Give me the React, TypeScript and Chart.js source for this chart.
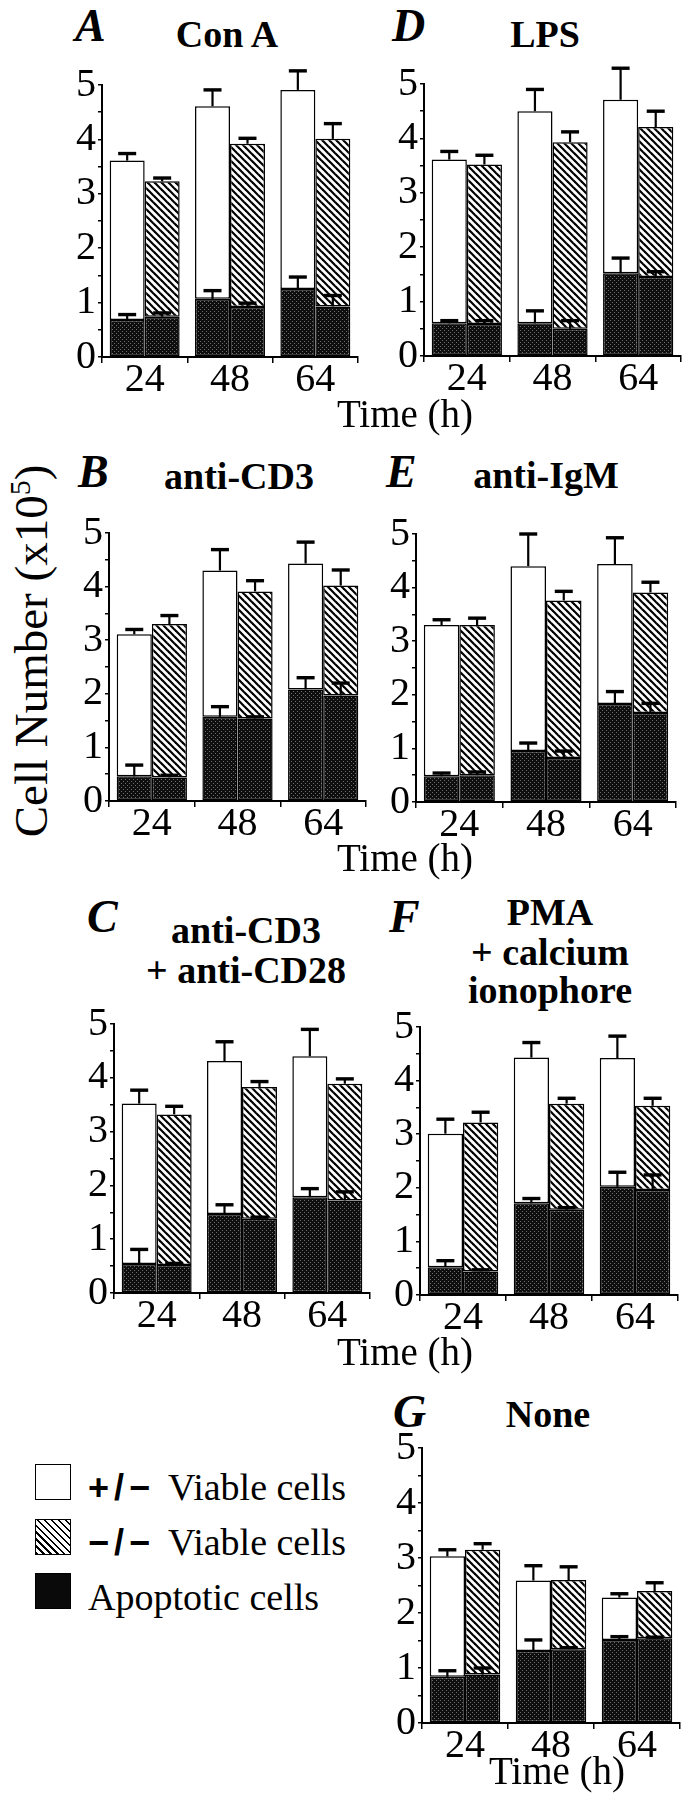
import React, { useEffect, useRef } from 'react';
import { Chart, registerables } from 'chart.js';

Chart.register(...registerables);

// ---------- DATA ----------
const timeLabels = ['24', '48', '64'];
const panelIds = ['A', 'B', 'C', 'D', 'E', 'F', 'G'];
const panelTitles = [
  ['Con A'],
  ['anti-CD3'],
  ['anti-CD3', '+ anti-CD28'],
  ['LPS'],
  ['anti-IgM'],
  ['PMA', '+ calcium', 'ionophore'],
  ['None'],
];
const yTicks = [0, 0.5, 1, 1.5, 2, 2.5, 3, 3.5, 4, 4.5, 5];

// rows follow panelIds order; columns follow timeLabels
const hetTotal = [
  [3.61, 4.61, 4.91],
  [3.11, 4.3, 4.43],
  [3.52, 4.31, 4.4],
  [3.61, 4.5, 4.71],
  [3.3, 4.4, 4.44],
  [3.01, 4.43, 4.42],
  [3.03, 2.59, 2.28],
];
const hetTotalErr = [
  [0.13, 0.3, 0.35],
  [0.09, 0.39, 0.4],
  [0.25, 0.36, 0.5],
  [0.15, 0.4, 0.58],
  [0.1, 0.6, 0.49],
  [0.27, 0.28, 0.41],
  [0.12, 0.27, 0.07],
];
const hetApop = [
  [0.68, 1.07, 1.25],
  [0.46, 1.57, 2.08],
  [0.54, 1.47, 1.78],
  [0.6, 0.6, 1.52],
  [0.48, 0.95, 1.83],
  [0.52, 1.71, 2.02],
  [0.84, 1.31, 1.51],
];
const hetApopErr = [
  [0.1, 0.15, 0.22],
  [0.21, 0.19, 0.22],
  [0.27, 0.17, 0.16],
  [0.05, 0.23, 0.28],
  [0.06, 0.15, 0.23],
  [0.12, 0.09, 0.27],
  [0.11, 0.2, 0.06],
];
const koTotal = [
  [3.23, 3.92, 4.01],
  [3.3, 3.91, 4.02],
  [3.32, 3.83, 3.89],
  [3.52, 3.93, 4.21],
  [3.3, 3.76, 3.91],
  [3.22, 3.57, 3.53],
  [3.15, 2.6, 2.4],
];
const koTotalErr = [
  [0.06, 0.1, 0.28],
  [0.16, 0.2, 0.29],
  [0.15, 0.1, 0.09],
  [0.17, 0.19, 0.29],
  [0.13, 0.17, 0.19],
  [0.19, 0.1, 0.14],
  [0.11, 0.24, 0.15],
];
const koApop = [
  [0.74, 0.92, 0.93],
  [0.44, 1.54, 1.97],
  [0.52, 1.38, 1.72],
  [0.59, 0.5, 1.45],
  [0.5, 0.82, 1.66],
  [0.44, 1.59, 1.96],
  [0.88, 1.34, 1.54],
];
const koApopErr = [
  [0.07, 0.07, 0.2],
  [0.04, 0.03, 0.23],
  [0.03, 0.03, 0.16],
  [0.06, 0.15, 0.1],
  [0.06, 0.13, 0.18],
  [0.03, 0.04, 0.28],
  [0.12, 0.03, 0.02],
];

// ---------- LAYOUT ----------
const Y_AXIS_W = 46;
const PAD_TOP = 36;
const PAD_RIGHT = 10;
const X_AXIS_H = 52;
const SERIF = "'Liberation Serif', 'Times New Roman', serif";

// axis origin x, pixel of value 5, pixel of value 0, plot width
const panelGeom = [
  { axisX: 102, y5: 85, y0: 357, plotW: 256 },
  { axisX: 109, y5: 533, y0: 801, plotW: 257 },
  { axisX: 114, y5: 1024, y0: 1293, plotW: 256 },
  { axisX: 424, y5: 84, y0: 356, plotW: 257 },
  { axisX: 416, y5: 534, y0: 802, plotW: 260 },
  { axisX: 420, y5: 1027, y0: 1295, plotW: 258 },
  { axisX: 422, y5: 1448, y0: 1723, plotW: 258 },
];
const letterPos = [
  { x: 75, b: 42 },
  { x: 78, b: 488 },
  { x: 87, b: 933 },
  { x: 392, b: 42 },
  { x: 386, b: 488 },
  { x: 389, b: 933 },
  { x: 393, b: 1428 },
];
const titlePos = [
  { cx: 227, b: [47] },
  { cx: 239, b: [489] },
  { cx: 246, b: [943, 983] },
  { cx: 545, b: [47] },
  { cx: 546, b: [488] },
  { cx: 550, b: [925, 965, 1003] },
  { cx: 548, b: [1427] },
];
const timePos = [
  { cx: 405, b: 427 },
  { cx: 405, b: 871 },
  { cx: 405, b: 1365 },
  { cx: 557, b: 1784 },
];

function makeStipple(): CanvasPattern | string {
  const c = document.createElement('canvas');
  c.width = 4;
  c.height = 4;
  const g = c.getContext('2d');
  if (!g) return '#1a1a1a';
  g.fillStyle = '#0e0e0e';
  g.fillRect(0, 0, 4, 4);
  g.fillStyle = '#707070';
  g.fillRect(0, 0, 1, 1);
  g.fillRect(2, 2, 1, 1);
  return g.createPattern(c, 'repeat') || '#1a1a1a';
}

function makeHatch(): CanvasPattern | string {
  const s = 7;
  const c = document.createElement('canvas');
  c.width = s;
  c.height = s;
  const g = c.getContext('2d');
  if (!g) return '#aaa';
  g.fillStyle = '#fff';
  g.fillRect(0, 0, s, s);
  g.strokeStyle = '#000';
  g.lineWidth = 2.2;
  for (const k of [-s, 0, s]) {
    g.beginPath();
    g.moveTo(k - 1, -1);
    g.lineTo(k + s + 1, s + 1);
    g.stroke();
  }
  return g.createPattern(c, 'repeat') || '#aaa';
}

const errorBarPlugin = {
  id: 'errorBars',
  afterDatasetsDraw(chart: any) {
    const ctx = chart.ctx;
    const ys = chart.scales.y;
    chart.data.datasets.forEach((ds: any, di: number) => {
      const errs: number[] | undefined = ds.errors;
      if (!errs) return;
      const meta = chart.getDatasetMeta(di);
      meta.data.forEach((bar: any, i: number) => {
        const e = errs[i];
        if (!e) return;
        const top = bar.y;
        const len = ys.getPixelForValue(0) - ys.getPixelForValue(e);
        const yt = top - len;
        ctx.save();
        ctx.strokeStyle = '#000';
        ctx.lineWidth = 2.2;
        ctx.beginPath();
        ctx.moveTo(bar.x, top);
        ctx.lineTo(bar.x, yt);
        ctx.stroke();
        ctx.lineWidth = 3.4;
        ctx.beginPath();
        ctx.moveTo(bar.x - 9, yt);
        ctx.lineTo(bar.x + 9, yt);
        ctx.stroke();
        ctx.restore();
      });
    });
  },
};

function Panel({ idx }: { idx: number }) {
  const ref = useRef<HTMLCanvasElement | null>(null);
  const geom = panelGeom[idx];
  const plotH = geom.y0 - geom.y5;
  const W = Y_AXIS_W + geom.plotW + PAD_RIGHT;
  const H = PAD_TOP + plotH + X_AXIS_H;

  useEffect(() => {
    if (!ref.current) return;
    const stipple = makeStipple();
    const hatch = makeHatch();
    const common = {
      borderColor: '#000',
      borderWidth: 1.5,
      borderSkipped: false,
      categoryPercentage: 0.82,
      barPercentage: 1.0,
    };
    const hetViable = hetTotal[idx].map((t, i) => t - hetApop[idx][i]);
    const koViable = koTotal[idx].map((t, i) => t - koApop[idx][i]);
    const tickFont = { family: SERIF, size: 40, lineHeight: 1 };
    const chart = new Chart(ref.current, {
      type: 'bar',
      data: {
        labels: timeLabels,
        datasets: [
          { ...common, label: '+/- apoptotic', data: hetApop[idx], stack: 'het', backgroundColor: stipple, errors: hetApopErr[idx] } as any,
          { ...common, label: '+/- viable', data: hetViable, stack: 'het', backgroundColor: '#ffffff', errors: hetTotalErr[idx] } as any,
          { ...common, label: '-/- apoptotic', data: koApop[idx], stack: 'ko', backgroundColor: stipple, errors: koApopErr[idx] } as any,
          { ...common, label: '-/- viable', data: koViable, stack: 'ko', backgroundColor: hatch, errors: koTotalErr[idx] } as any,
        ],
      },
      options: {
        responsive: false,
        animation: false,
        devicePixelRatio: 1,
        layout: { padding: { top: PAD_TOP, right: PAD_RIGHT, left: 0, bottom: 0 } },
        plugins: {
          legend: { display: false },
          tooltip: { enabled: false },
          title: { display: false },
        },
        scales: {
          x: {
            stacked: true,
            offset: true,
            grid: {
              display: true,
              drawOnChartArea: false,
              drawTicks: true,
              tickLength: 6,
              offset: true,
              color: '#000',
              lineWidth: 1.5,
            },
            border: { display: true, color: '#000', width: 2 },
            ticks: {
              color: '#000',
              font: tickFont,
              padding: -3,
              maxRotation: 0,
              autoSkip: false,
            },
            afterFit: (s: any) => {
              s.height = X_AXIS_H;
            },
          },
          y: {
            stacked: true,
            min: yTicks[0],
            max: yTicks[yTicks.length - 1],
            afterBuildTicks: (s: any) => {
              s.ticks = yTicks.map((v) => ({ value: v }));
            },
            grid: {
              display: true,
              drawOnChartArea: false,
              drawTicks: true,
              tickLength: 4,
              color: '#000',
              lineWidth: 1.5,
            },
            border: { display: true, color: '#000', width: 2 },
            ticks: {
              color: '#000',
              font: tickFont,
              padding: 2,
              autoSkip: false,
              callback: (v: any) => (Number.isInteger(Number(v)) ? String(v) : ''),
            },
            afterFit: (s: any) => {
              s.width = Y_AXIS_W;
            },
          },
        },
      } as any,
      plugins: [errorBarPlugin],
    });
    return () => chart.destroy();
  }, [idx]);

  return (
    <canvas
      ref={ref}
      width={W}
      height={H}
      style={{
        position: 'absolute',
        left: geom.axisX - Y_AXIS_W,
        top: geom.y5 - PAD_TOP,
        width: W,
        height: H,
      }}
    />
  );
}

function Txt(props: {
  x: number;
  b: number;
  size: number;
  weight?: string;
  italic?: boolean;
  center?: boolean;
  family?: string;
  spacing?: number;
  children: React.ReactNode;
}) {
  const { x, b, size, weight, italic, center, family, spacing, children } = props;
  return (
    <div
      style={{
        position: 'absolute',
        left: x,
        top: b - 0.8375 * size,
        fontSize: size,
        lineHeight: `${size}px`,
        fontWeight: weight || 'normal',
        fontStyle: italic ? 'italic' : 'normal',
        fontFamily: family || SERIF,
        letterSpacing: spacing ? spacing : 'normal',
        whiteSpace: 'nowrap',
        transform: center ? 'translateX(-50%)' : undefined,
        color: '#000',
      }}
    >
      {children}
    </div>
  );
}

const legendItems = [
  { sym: '+/\u2212', text: 'Viable cells', kind: 'white', top: 1464, b: 1500 },
  { sym: '\u2212/\u2212', text: 'Viable cells', kind: 'hatch', top: 1519, b: 1555 },
  { sym: '', text: 'Apoptotic cells', kind: 'black', top: 1573, b: 1610 },
];

export default function App() {
  return (
    <div
      style={{
        position: 'absolute',
        left: 0,
        top: 0,
        width: 688,
        height: 1800,
        background: '#fff',
        overflow: 'hidden',
        fontFamily: SERIF,
      }}
    >
      {panelIds.map((id, i) => (
        <React.Fragment key={id}>
          <Txt x={letterPos[i].x} b={letterPos[i].b} size={46} weight="bold" italic>
            {id}
          </Txt>
          {panelTitles[i].map((line, j) => (
            <Txt key={j} x={titlePos[i].cx} b={titlePos[i].b[j]} size={38} weight="bold" center>
              {line}
            </Txt>
          ))}
          <Panel idx={i} />
        </React.Fragment>
      ))}
      {timePos.map((p, i) => (
        <Txt key={'t' + i} x={p.cx} b={p.b} size={39} center>
          Time (h)
        </Txt>
      ))}
      <div
        style={{
          position: 'absolute',
          left: 31,
          top: 651,
          transform: 'translate(-50%, -50%) rotate(-90deg)',
          fontSize: 47,
          lineHeight: '47px',
          whiteSpace: 'nowrap',
          fontFamily: SERIF,
        }}
      >
        Cell Number (x10<sup style={{ fontSize: 30, lineHeight: 0 }}>5</sup>)
      </div>
      {legendItems.map((it, i) => (
        <React.Fragment key={'l' + i}>
          <div
            style={{
              position: 'absolute',
              left: 35,
              top: it.top,
              width: 36,
              height: 36,
              boxSizing: 'border-box',
              border: '1.5px solid #000',
              background:
                it.kind === 'white'
                  ? '#fff'
                  : it.kind === 'black'
                  ? '#0a0a0a'
                  : 'repeating-linear-gradient(45deg, #000 0px, #000 1.6px, #fff 1.6px, #fff 4.9px)',
            }}
          />
          {it.sym ? (
            <Txt x={88} b={it.b} size={36} weight="bold" family="'Liberation Sans', Arial, sans-serif" spacing={5}>
              {it.sym}
            </Txt>
          ) : null}
          <Txt x={it.sym ? 168 : 88} b={it.b} size={38}>
            {it.text}
          </Txt>
        </React.Fragment>
      ))}
    </div>
  );
}
